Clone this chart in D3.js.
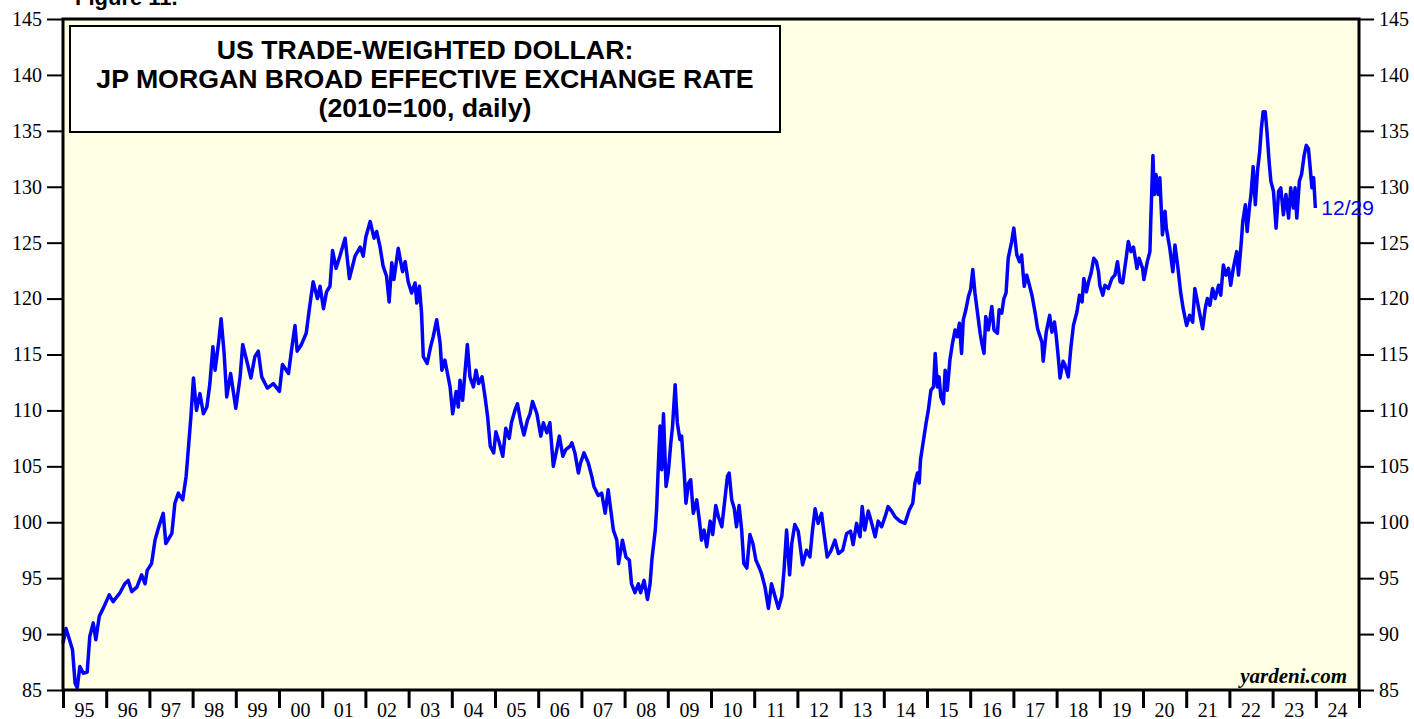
<!DOCTYPE html>
<html><head><meta charset="utf-8">
<script src="https://cdn.jsdelivr.net/npm/d3@7/dist/d3.min.js"></script>
<style>body{margin:0;background:#fff;overflow:hidden}</style>
</head><body>
<svg id="chart" width="1414" height="719"></svg>
<script>
// Decimal-year dates and index values
const dates = [
1995.00,1995.07,1995.15,1995.22,1995.28,1995.33,1995.39,1995.47,1995.56,1995.62,1995.70,1995.76,1995.84,1995.93,
1996.07,1996.16,1996.32,1996.43,1996.51,1996.59,1996.71,1996.82,1996.90,1996.95,
1997.05,1997.13,1997.21,1997.32,1997.38,1997.52,1997.59,1997.67,1997.77,1997.85,1997.90,1997.96,
1998.02,1998.09,1998.17,1998.25,1998.33,1998.40,1998.47,1998.52,1998.60,1998.66,1998.73,1998.79,1998.88,
1999.00,1999.10,1999.16,1999.25,1999.35,1999.44,1999.52,1999.60,1999.73,1999.87,
2000.01,2000.08,2000.22,2000.29,2000.37,2000.42,2000.52,2000.63,2000.70,2000.79,2000.89,2000.95,
2001.03,2001.10,2001.18,2001.24,2001.32,2001.41,2001.53,2001.63,2001.76,2001.88,2001.95,
2002.01,2002.11,2002.20,2002.26,2002.34,2002.41,2002.49,2002.55,2002.61,2002.66,2002.76,2002.86,2002.92,2002.99,
2003.07,2003.15,2003.19,2003.25,2003.30,2003.34,2003.43,2003.51,2003.57,2003.65,2003.73,2003.77,2003.84,2003.90,2003.96,
2004.02,2004.10,2004.15,2004.19,2004.25,2004.31,2004.36,2004.42,2004.50,2004.56,2004.62,2004.70,2004.77,2004.83,2004.89,2004.97,
2005.02,2005.10,2005.18,2005.25,2005.33,2005.38,2005.46,2005.52,2005.60,2005.67,2005.75,2005.81,2005.87,2005.97,
2006.06,2006.12,2006.20,2006.27,2006.35,2006.43,2006.49,2006.57,2006.64,2006.74,2006.78,2006.85,2006.93,2006.98,
2007.06,2007.16,2007.24,2007.29,2007.39,2007.47,2007.55,2007.62,2007.66,2007.74,2007.82,2007.86,2007.95,
2008.03,2008.11,2008.16,2008.24,2008.32,2008.37,2008.45,2008.53,2008.59,2008.63,2008.71,2008.74,2008.78,2008.82,2008.86,2008.90,2008.96,
2009.01,2009.07,2009.11,2009.17,2009.22,2009.28,2009.32,2009.38,2009.42,2009.48,2009.53,2009.59,2009.67,2009.73,2009.78,2009.84,2009.90,2009.98,
2010.04,2010.11,2010.17,2010.25,2010.32,2010.38,2010.42,2010.48,2010.54,2010.59,2010.65,2010.71,2010.76,2010.83,2010.90,2010.97,
2011.04,2011.11,2011.17,2011.25,2011.33,2011.40,2011.48,2011.56,2011.64,2011.69,2011.75,2011.82,2011.87,2011.94,
2012.02,2012.12,2012.21,2012.29,2012.35,2012.41,2012.48,2012.56,2012.61,2012.69,2012.77,2012.87,2012.95,
2013.05,2013.14,2013.23,2013.29,2013.37,2013.45,2013.50,2013.56,2013.64,2013.70,2013.80,2013.87,2013.95,
2014.03,2014.10,2014.18,2014.26,2014.37,2014.49,2014.59,2014.67,2014.72,2014.78,2014.82,2014.85,2014.91,2014.98,
2015.03,2015.09,2015.15,2015.19,2015.24,2015.28,2015.32,2015.38,2015.42,2015.47,2015.53,2015.59,2015.65,2015.70,2015.75,2015.80,2015.84,2015.90,2015.96,
2016.01,2016.06,2016.11,2016.16,2016.23,2016.27,2016.32,2016.36,2016.42,2016.50,2016.55,2016.63,2016.67,2016.73,2016.78,2016.83,2016.88,2016.96,
2017.01,2017.08,2017.14,2017.19,2017.25,2017.31,2017.37,2017.43,2017.50,2017.56,2017.66,2017.69,2017.76,2017.84,2017.89,2017.95,2017.99,
2018.04,2018.08,2018.15,2018.19,2018.27,2018.33,2018.39,2018.47,2018.53,2018.59,2018.63,2018.69,2018.74,2018.80,2018.86,2018.92,2018.97,
2019.00,2019.07,2019.12,2019.20,2019.28,2019.35,2019.41,2019.47,2019.53,2019.61,2019.66,2019.72,2019.78,2019.86,2019.91,2019.99,
2020.02,2020.10,2020.16,2020.18,2020.23,2020.26,2020.30,2020.35,2020.39,2020.45,2020.51,2020.54,2020.62,2020.69,2020.74,2020.81,2020.87,2020.93,
2021.01,2021.08,2021.15,2021.20,2021.26,2021.32,2021.38,2021.44,2021.49,2021.55,2021.61,2021.67,2021.75,2021.80,2021.86,2021.92,2021.98,
2022.03,2022.09,2022.17,2022.21,2022.27,2022.31,2022.37,2022.41,2022.47,2022.50,2022.55,2022.60,2022.65,2022.70,2022.74,2022.78,2022.83,2022.87,2022.92,2022.96,
2023.02,2023.08,2023.14,2023.19,2023.25,2023.31,2023.37,2023.42,2023.48,2023.52,2023.56,2023.62,2023.67,2023.73,2023.78,2023.83,2023.87,2023.91,2023.95,2023.99
];
const values = [
89.2,90.5,89.5,88.6,85.6,85.2,87.1,86.5,86.6,89.8,91.0,89.5,91.6,92.3,
93.5,92.9,93.7,94.5,94.8,93.8,94.2,95.3,94.5,95.7,
96.3,98.4,99.5,100.8,98.1,99.0,101.7,102.6,102.0,104.1,106.5,109.4,
112.9,110.0,111.5,109.7,110.3,112.4,115.7,113.6,116.0,118.2,115.1,111.2,113.3,
110.2,113.0,115.9,114.5,112.9,114.8,115.3,113.0,112.0,112.4,
111.7,114.1,113.3,115.4,117.6,115.3,115.9,116.9,119.0,121.5,120.0,121.1,
119.1,120.6,121.1,124.3,122.7,123.8,125.4,121.8,123.8,124.6,123.8,
125.5,126.9,125.4,126.0,124.6,122.9,122.0,119.7,123.2,121.7,124.5,122.4,123.3,121.5,
120.5,121.4,119.6,121.1,118.7,114.8,114.2,115.7,116.6,118.1,116.0,113.6,114.5,113.3,112.1,
109.7,111.7,110.3,112.7,110.9,113.6,115.9,113.0,112.1,113.6,112.4,113.0,111.2,109.4,106.8,106.2,
108.1,107.1,105.9,108.4,107.5,108.9,110.0,110.6,108.9,107.8,109.1,109.7,110.8,109.7,
107.7,108.9,108.0,108.9,105.0,106.5,107.7,105.9,106.5,106.8,107.1,106.2,104.4,105.3,
106.2,105.3,104.1,103.2,102.4,102.6,100.8,102.9,101.7,99.3,98.4,96.3,98.4,
96.9,96.6,94.5,93.7,94.5,93.7,94.8,93.1,94.5,96.6,99.3,101.1,105.0,108.6,104.7,109.7,103.2,
104.4,107.1,108.6,112.3,108.9,107.4,107.7,104.4,101.7,103.5,103.8,100.8,102.0,100.2,98.4,99.3,97.8,100.1,
98.9,101.5,100.5,99.6,102.0,104.1,104.4,102.0,101.2,99.6,101.5,99.3,96.3,95.9,98.9,98.1,
96.6,96.0,95.4,94.2,92.3,94.5,93.4,92.3,93.4,95.7,99.3,95.3,98.1,99.8,
99.2,96.2,97.5,96.9,99.3,101.2,99.9,100.8,99.2,96.9,97.4,98.4,97.2,
97.5,99.0,99.2,98.0,99.9,98.7,101.4,99.3,101.0,100.2,98.7,100.1,99.6,
100.5,101.4,101.0,100.5,100.1,99.9,101.1,101.7,103.5,104.4,103.5,105.6,107.1,108.9,
110.0,111.8,112.1,115.1,112.1,113.0,111.2,110.6,113.6,111.8,114.5,116.0,117.2,116.6,117.8,115.1,118.1,119.0,120.2,
120.8,122.6,120.5,119.0,116.9,116.0,115.1,118.4,117.2,119.3,117.2,116.9,119.0,118.7,120.0,120.5,123.6,125.1,
126.3,123.9,123.3,123.9,121.1,122.1,121.2,120.3,118.8,117.3,116.1,114.4,117.0,118.5,117.0,117.9,116.7,
114.7,112.9,114.4,114.1,113.0,115.6,117.6,118.8,120.3,119.7,121.8,120.6,121.5,122.3,123.6,123.3,122.4,
121.2,120.3,121.2,120.9,121.8,122.1,123.3,121.5,121.4,123.6,125.1,124.2,124.6,122.7,123.6,122.7,
121.7,123.3,124.2,126.9,132.8,129.3,131.1,129.3,130.8,125.7,127.8,126.3,124.5,122.4,124.8,122.7,120.6,119.1,
117.6,118.5,117.9,120.9,119.7,118.5,117.3,119.1,120.0,119.4,120.9,120.0,121.2,120.3,123.0,122.1,122.7,
121.2,122.7,124.2,122.1,124.8,126.9,128.4,126.0,128.4,129.3,131.8,128.4,131.4,133.1,135.2,136.7,136.7,134.9,132.2,130.5,
129.6,126.3,129.6,129.9,127.5,129.3,127.2,129.9,128.1,129.9,127.2,130.5,131.1,132.8,133.7,133.4,131.7,129.9,130.8,128.1
];
const yTicks = [85,90,95,100,105,110,115,120,125,130,135,140,145];
const yearTicks = d3.range(1995, 2026);
const yearLabels = ["95","96","97","98","99","00","01","02","03","04","05","06","07","08","09","10","11","12","13","14","15","16","17","18","19","20","21","22","23","24"];
const titleLines = ["US TRADE-WEIGHTED DOLLAR:", "JP MORGAN BROAD EFFECTIVE EXCHANGE RATE", "(2010=100, daily)"];
const lastLabel = "12/29";

const L = 63, R = 1359, T = 19, B = 690;
const svg = d3.select("#chart");
const x = d3.scaleLinear().domain([1995, 2025]).range([L, R]);
const y = d3.scaleLinear().domain([85, 145]).range([B, T]);

// plot background
svg.append("rect").attr("x", L).attr("y", T).attr("width", R - L).attr("height", B - T)
  .attr("fill", "#ffffe3");

// line
const data = dates.map((d, i) => [d, values[i]]);
svg.append("path").datum(data)
  .attr("fill", "none").attr("stroke", "#0000ff").attr("stroke-width", 3.5)
  .attr("stroke-linejoin", "round")
  .attr("d", d3.line().x(d => x(d[0])).y(d => y(d[1])));

// frame
svg.append("rect").attr("x", L).attr("y", T).attr("width", R - L).attr("height", B - T)
  .attr("fill", "none").attr("stroke", "#000").attr("stroke-width", 3);

const serif = "'Liberation Serif','Times New Roman',serif";
// left axis
const gl = svg.append("g").attr("transform", `translate(${L - 1},0)`)
  .call(d3.axisLeft(y).tickValues(yTicks).tickSize(15).tickPadding(5));
const gr = svg.append("g").attr("transform", `translate(${R + 1},0)`)
  .call(d3.axisRight(y).tickValues(yTicks).tickSize(14).tickPadding(5));
[gl, gr].forEach(g => {
  g.select(".domain").remove();
  g.selectAll(".tick line").attr("stroke", "#000").attr("stroke-width", 2);
  g.selectAll(".tick text").attr("font-family", serif).attr("font-size", 20).attr("fill", "#000");
});

// bottom axis
const gb = svg.append("g").attr("transform", `translate(0,${B + 1})`)
  .call(d3.axisBottom(x).tickValues(yearTicks).tickSize(17).tickFormat(""));
gb.select(".domain").remove();
gb.selectAll(".tick line").attr("stroke", "#000").attr("stroke-width", 3);
svg.append("g").selectAll("text").data(yearLabels).join("text")
  .attr("x", (d, i) => x(1995 + i + 0.5)).attr("y", 717)
  .attr("text-anchor", "middle").attr("font-family", serif).attr("font-size", 20)
  .text(d => d);

// title box
svg.append("rect").attr("x", 70).attr("y", 26).attr("width", 710).attr("height", 106)
  .attr("fill", "#fff").attr("stroke", "#000").attr("stroke-width", 2);
const sans = "'Liberation Sans',Arial,sans-serif";
svg.append("g").selectAll("text").data(titleLines).join("text")
  .attr("x", 425).attr("y", (d, i) => 59 + i * 29)
  .attr("text-anchor", "middle").attr("font-family", sans).attr("font-weight", "bold")
  .attr("font-size", 26.7).text(d => d);

// figure caption (cut off at top)
svg.append("text").attr("x", 75).attr("y", 5).attr("font-family", sans).attr("font-weight", "bold")
  .attr("font-size", 22).text("Figure 11.");

// last-date label
svg.append("text").attr("x", x(dates[dates.length - 1]) + 6).attr("y", y(values[values.length - 1]) + 7)
  .attr("font-family", sans).attr("font-size", 21).attr("fill", "#0000ff").text(lastLabel);

// source
svg.append("text").attr("x", 1347).attr("y", 683).attr("text-anchor", "end")
  .attr("font-family", serif).attr("font-weight", "bold").attr("font-style", "italic")
  .attr("font-size", 21).text("yardeni.com");
</script>
</body></html>
